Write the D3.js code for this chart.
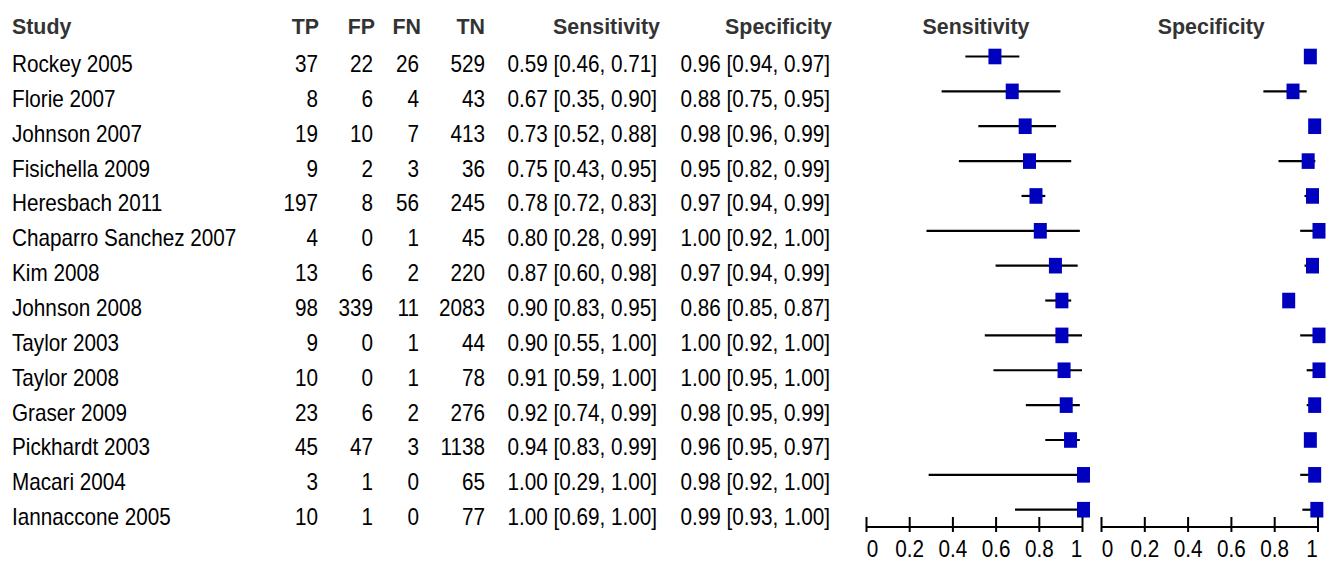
<!DOCTYPE html>
<html>
<head>
<meta charset="utf-8">
<script src="https://cdn.jsdelivr.net/npm/d3@7"></script>
<style>
  body { margin: 0; background: #fff; }
  svg { display: block; font-family: "Liberation Sans", Arial, sans-serif; }
</style>
</head>
<body>
<div id="grafico"></div>
<script>
// datos
var studies = ["Rockey 2005", "Florie 2007", "Johnson 2007", "Fisichella 2009", "Heresbach 2011",
  "Chaparro Sanchez 2007", "Kim 2008", "Johnson 2008", "Taylor 2003", "Taylor 2008",
  "Graser 2009", "Pickhardt 2003", "Macari 2004", "Iannaccone 2005"];
var tp = [37, 8, 19, 9, 197, 4, 13, 98, 9, 10, 23, 45, 3, 10];
var fp = [22, 6, 10, 2, 8, 0, 6, 339, 0, 0, 6, 47, 1, 1];
var fn = [26, 4, 7, 3, 56, 1, 2, 11, 1, 1, 2, 3, 0, 0];
var tn = [529, 43, 413, 36, 245, 45, 220, 2083, 44, 78, 276, 1138, 65, 77];
var sens   = [0.59, 0.67, 0.73, 0.75, 0.78, 0.80, 0.87, 0.90, 0.90, 0.91, 0.92, 0.94, 1.00, 1.00];
var sensLo = [0.46, 0.35, 0.52, 0.43, 0.72, 0.28, 0.60, 0.83, 0.55, 0.59, 0.74, 0.83, 0.29, 0.69];
var sensHi = [0.71, 0.90, 0.88, 0.95, 0.83, 0.99, 0.98, 0.95, 1.00, 1.00, 0.99, 0.99, 1.00, 1.00];
var spec   = [0.96, 0.88, 0.98, 0.95, 0.97, 1.00, 0.97, 0.86, 1.00, 1.00, 0.98, 0.96, 0.98, 0.99];
var specLo = [0.94, 0.75, 0.96, 0.82, 0.94, 0.92, 0.94, 0.85, 0.92, 0.95, 0.95, 0.95, 0.92, 0.93];
var specHi = [0.97, 0.95, 0.99, 0.99, 0.99, 1.00, 0.99, 0.87, 1.00, 1.00, 0.99, 0.97, 1.00, 1.00];
var ticks = [0, 0.2, 0.4, 0.6, 0.8, 1];

var width = 1337, height = 562,
    fsize = 23, sx = 0.9, sxb = 0.93,
    f2 = d3.format(".2f");

var svg = d3.select("#grafico").append("svg")
    .attr("width", width)
    .attr("height", height);

var y = d3.scalePoint().domain(studies).range([56.5, 509.7]);
var xSens = d3.scaleLinear().domain([0, 1]).range([866, 1082]);
var xSpec = d3.scaleLinear().domain([0, 1]).range([1101, 1317.5]);

var rows = studies.map(function (s, i) {
    return {study: s, tp: tp[i], fp: fp[i], fn: fn[i], tn: tn[i],
        sens: sens[i], sensLo: sensLo[i], sensHi: sensHi[i],
        spec: spec[i], specLo: specLo[i], specHi: specHi[i]};
});

// texto con leve compresion horizontal
var txt = function (sel, x, yy, anchor, s, bold) {
    return sel.append("text")
        .attr("transform", "translate(" + x + "," + yy + ") scale(" + (bold ? sxb : sx) + ",1)")
        .attr("text-anchor", anchor)
        .attr("font-size", fsize)
        .attr("font-weight", bold ? "bold" : "normal")
        .attr("fill", bold ? "#333" : "#000")
        .text(s);
};

/* encabezados */
var hy = 33.5;
txt(svg, 12, hy, "start", "Study", true);
txt(svg, 319, hy, "end", "TP", true);
txt(svg, 375, hy, "end", "FP", true);
txt(svg, 421, hy, "end", "FN", true);
txt(svg, 485, hy, "end", "TN", true);
txt(svg, 660, hy, "end", "Sensitivity", true);
txt(svg, 832, hy, "end", "Specificity", true);
txt(svg, (xSens(0) + xSens(1)) / 2 + 2, hy, "middle", "Sensitivity", true);
txt(svg, (xSpec(0) + xSpec(1)) / 2 + 2, hy, "middle", "Specificity", true);

/* tabla */
var cols = [
    {x: 12, a: "start", v: function (d) { return d.study; }},
    {x: 318, a: "end", v: function (d) { return d.tp; }},
    {x: 373, a: "end", v: function (d) { return d.fp; }},
    {x: 419, a: "end", v: function (d) { return d.fn; }},
    {x: 485, a: "end", v: function (d) { return d.tn; }},
    {x: 657, a: "end", v: function (d) { return f2(d.sens) + " [" + f2(d.sensLo) + ", " + f2(d.sensHi) + "]"; }},
    {x: 830, a: "end", v: function (d) { return f2(d.spec) + " [" + f2(d.specLo) + ", " + f2(d.specHi) + "]"; }}
];
rows.forEach(function (d) {
    var yy = y(d.study) + 15.5;
    cols.forEach(function (c) {
        txt(svg, c.x, yy, c.a, c.v(d), false);
    });
});

/* forest plots */
var forest = function (x, key) {
    var g = svg.append("g");

    g.selectAll("line.ci")
        .data(rows)
        .enter().append("line")
        .attr("class", "ci")
        .attr("x1", function (d) { return x(d[key + "Lo"]); })
        .attr("x2", function (d) { return x(d[key + "Hi"]); })
        .attr("y1", function (d) { return y(d.study); })
        .attr("y2", function (d) { return y(d.study); })
        .attr("stroke", "#000")
        .attr("stroke-width", 2.2);

    g.selectAll("rect")
        .data(rows)
        .enter().append("rect")
        .attr("x", function (d) { return x(d[key]) - 6.5 + 1.5; })
        .attr("y", function (d) { return y(d.study) - 7.8; })
        .attr("width", 13)
        .attr("height", 15.6)
        .attr("fill", "#0000bf");

    var ax = g.append("g")
        .attr("transform", "translate(0,517)")
        .call(d3.axisBottom(x).tickValues(ticks).tickFormat(d3.format("~g"))
            .tickSize(15).tickSizeOuter(0).tickPadding(9));
    ax.select(".domain").remove();
    ax.selectAll(".tick line").attr("stroke", "#000").attr("stroke-width", 2);
    // las etiquetas extremas van corridas hacia adentro
    ax.selectAll(".tick text")
        .attr("font-size", fsize)
        .attr("font-family", "Liberation Sans, Arial, sans-serif")
        .attr("fill", "#000")
        .attr("transform", function (d) {
            var dx = d === 0 ? 6 : (d === 1 ? -6 : 0);
            return "translate(" + dx + ",0) scale(" + sx + ",1)";
        });
    ax.append("line")
        .attr("x1", x(0)).attr("x2", x(1))
        .attr("y1", 10).attr("y2", 10)
        .attr("stroke", "#000").attr("stroke-width", 2);
};

forest(xSens, "sens");
forest(xSpec, "spec");
</script>
</body>
</html>
